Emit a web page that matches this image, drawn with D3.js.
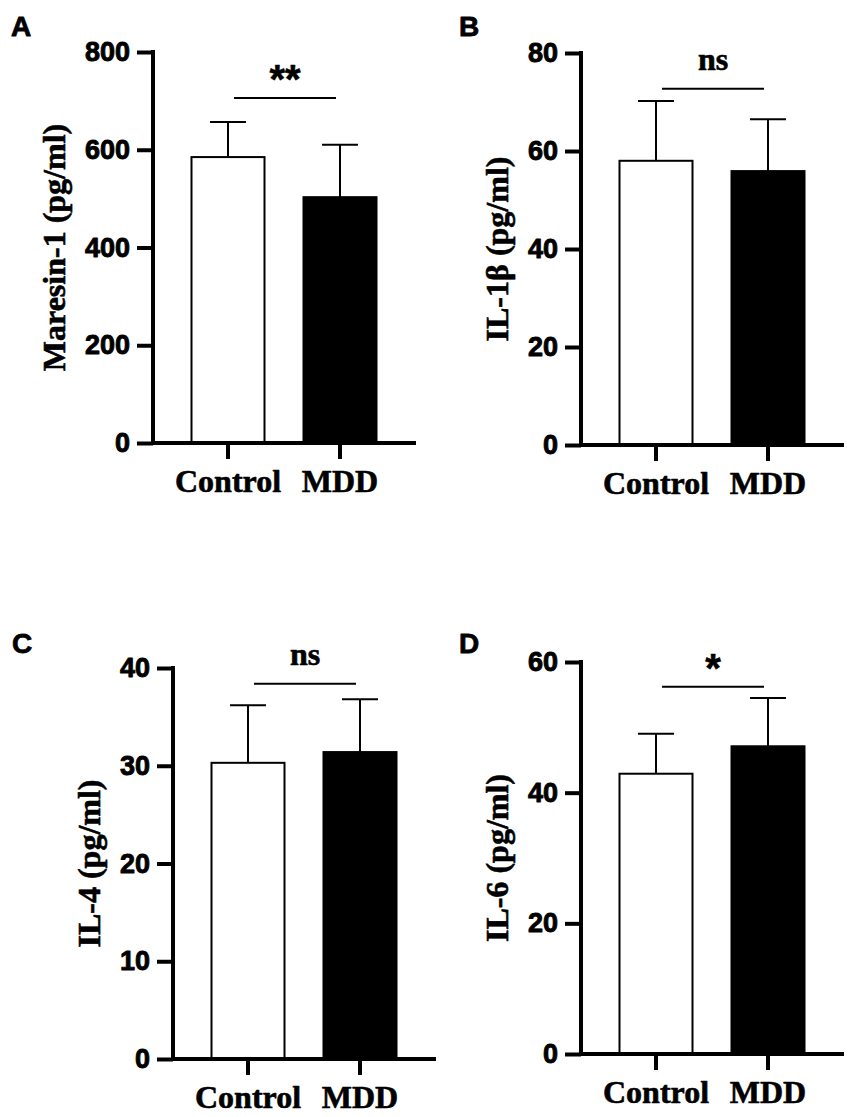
<!DOCTYPE html>
<html>
<head>
<meta charset="utf-8">
<script src="https://cdn.jsdelivr.net/npm/d3@7"></script>
<style>
  body { margin: 0; background: #fff; }
  svg { display: block; }
</style>
</head>
<body>
<div id="chart"></div>
<script>
// 数据
const groups = ["Control", "MDD"]
const panelLetters = ["A", "B", "C", "D"]
const yLabels = ["Maresin-1 (pg/ml)", "IL-1β (pg/ml)", "IL-4 (pg/ml)", "IL-6 (pg/ml)"]
const yMax = [800, 80, 40, 60]
const yStep = [200, 20, 10, 20]
const meanValues = [[585, 503], [58.0, 55.9], [30.3, 31.4], [42.9, 47.1]]
const sdValues = [[72, 107], [12.2, 10.6], [5.9, 5.4], [6.1, 7.4]]
const sigLabels = ["**", "ns", "ns", "*"]
const sigLevel = [706, 72.7, 38.4, 56.2]

const W = 854
const H = 1117
const sansFont = "'Liberation Sans', Arial, sans-serif"
const serifFont = "'Liberation Serif', 'Times New Roman', serif"

// 每个子图的坐标框
const frames = [
  {left: 153, top: 52, bottom: 443, letterX: 11, letterY: 36},
  {left: 581, top: 53, bottom: 445, letterX: 459, letterY: 36},
  {left: 173, top: 668, bottom: 1059, letterX: 12, letterY: 653},
  {left: 581, top: 662, bottom: 1054, letterX: 459, letterY: 653}
]
const axisLength = 263

const svg = d3.select("#chart").append("svg").attr("width", W).attr("height", H)

// 文字稍微加粗一点，贴近原图
function heavy(sel, w) {
  sel.attr("stroke", "#000").attr("stroke-width", w).attr("stroke-linejoin", "round")
}

function drawPanel(i) {
  const f = frames[i]
  const g = svg.append("g")
  const data = groups.map((name, j) => ({name, mean: meanValues[i][j], sd: sdValues[i][j], j}))

  const y = d3.scaleLinear().domain([0, yMax[i]]).range([f.bottom, f.top])
  const x = d3.scaleBand().domain(groups)
    .range([f.left + 38.5, f.left + 223.5])
    .paddingInner(39 / 112).paddingOuter(0)
  const bw = x.bandwidth()

  // 柱子
  g.selectAll("rect.bar").data(data).enter().append("rect")
    .attr("class", "bar")
    .attr("x", d => x(d.name))
    .attr("y", d => y(d.mean))
    .attr("width", bw)
    .attr("height", d => y(0) - y(d.mean))
    .attr("fill", d => d.j === 0 ? "#fff" : "#000")
    .attr("stroke", "#000")
    .attr("stroke-width", 2)

  // 误差线
  const err = g.selectAll("g.err").data(data).enter().append("g").attr("class", "err")
  err.append("line")
    .attr("x1", d => x(d.name) + bw / 2).attr("x2", d => x(d.name) + bw / 2)
    .attr("y1", d => y(d.mean)).attr("y2", d => y(d.mean + d.sd))
  err.append("line")
    .attr("x1", d => x(d.name) + bw / 2 - 18).attr("x2", d => x(d.name) + bw / 2 + 18)
    .attr("y1", d => y(d.mean + d.sd)).attr("y2", d => y(d.mean + d.sd))
  err.selectAll("line").attr("stroke", "#000").attr("stroke-width", 2)

  // y轴
  const ticks = d3.range(0, yMax[i] + yStep[i] / 2, yStep[i])
  const yAxis = g.append("g").attr("transform", `translate(${f.left},0)`)
    .call(d3.axisLeft(y).tickValues(ticks).tickSize(16).tickSizeOuter(0).tickPadding(7).tickFormat(d3.format("d")))
  yAxis.select(".domain").attr("stroke-width", 4).attr("d", `M0,${f.top - 2}V${f.bottom}`)
  yAxis.selectAll(".tick line").attr("stroke-width", 4)
  yAxis.selectAll(".tick text")
    .attr("font-family", sansFont).attr("font-weight", "bold").attr("font-size", 27).attr("fill", "#000")
    .call(heavy, 0.9)
  yAxis.attr("font-family", null).attr("font-size", null)

  // x轴
  const xAxis = g.append("g").attr("transform", `translate(0,${f.bottom})`)
    .call(d3.axisBottom(x).tickSize(16).tickSizeOuter(0))
  xAxis.select(".domain").attr("stroke-width", 4).attr("d", `M${f.left - 2},0H${f.left + axisLength}`)
  xAxis.selectAll(".tick line").attr("stroke-width", 4)
  xAxis.selectAll(".tick text")
    .attr("y", 49).attr("dy", null)
    .attr("font-family", serifFont).attr("font-weight", "bold").attr("font-size", 32).attr("fill", "#000")
    .call(heavy, 0.6)
  xAxis.attr("font-family", null).attr("font-size", null)

  // y轴标题，放在刻度文字左边
  const tb = yAxis.node().getBBox()
  const labelX = f.left + tb.x - 20
  g.append("text")
    .attr("transform", `translate(${labelX},${(f.top + f.bottom) / 2}) rotate(-90)`)
    .attr("text-anchor", "middle")
    .attr("font-family", serifFont).attr("font-weight", "bold").attr("font-size", 32)
    .call(heavy, 0.6)
    .text(yLabels[i])

  // 显著性标记
  const sx1 = x(groups[0]) + bw / 2 + 6
  const sx2 = x(groups[1]) + bw / 2 - 4
  const sy = y(sigLevel[i])
  g.append("line").attr("x1", sx1).attr("x2", sx2).attr("y1", sy).attr("y2", sy)
    .attr("stroke", "#000").attr("stroke-width", 2)
  const isStar = sigLabels[i].indexOf("*") >= 0
  g.append("text")
    .attr("x", (sx1 + sx2) / 2)
    .attr("y", isStar ? sy - 5 : sy - 19)
    .attr("text-anchor", "middle")
    .attr("font-family", isStar ? sansFont : serifFont)
    .attr("font-weight", "bold")
    .attr("font-size", isStar ? 40 : 32)
    .call(heavy, 0.6)
    .text(sigLabels[i])

  // 面板字母
  g.append("text")
    .attr("x", f.letterX).attr("y", f.letterY)
    .attr("font-family", sansFont).attr("font-weight", "bold").attr("font-size", 28)
    .call(heavy, 0.8)
    .text(panelLetters[i])
}

panelLetters.forEach((_, i) => drawPanel(i))
</script>
</body>
</html>
